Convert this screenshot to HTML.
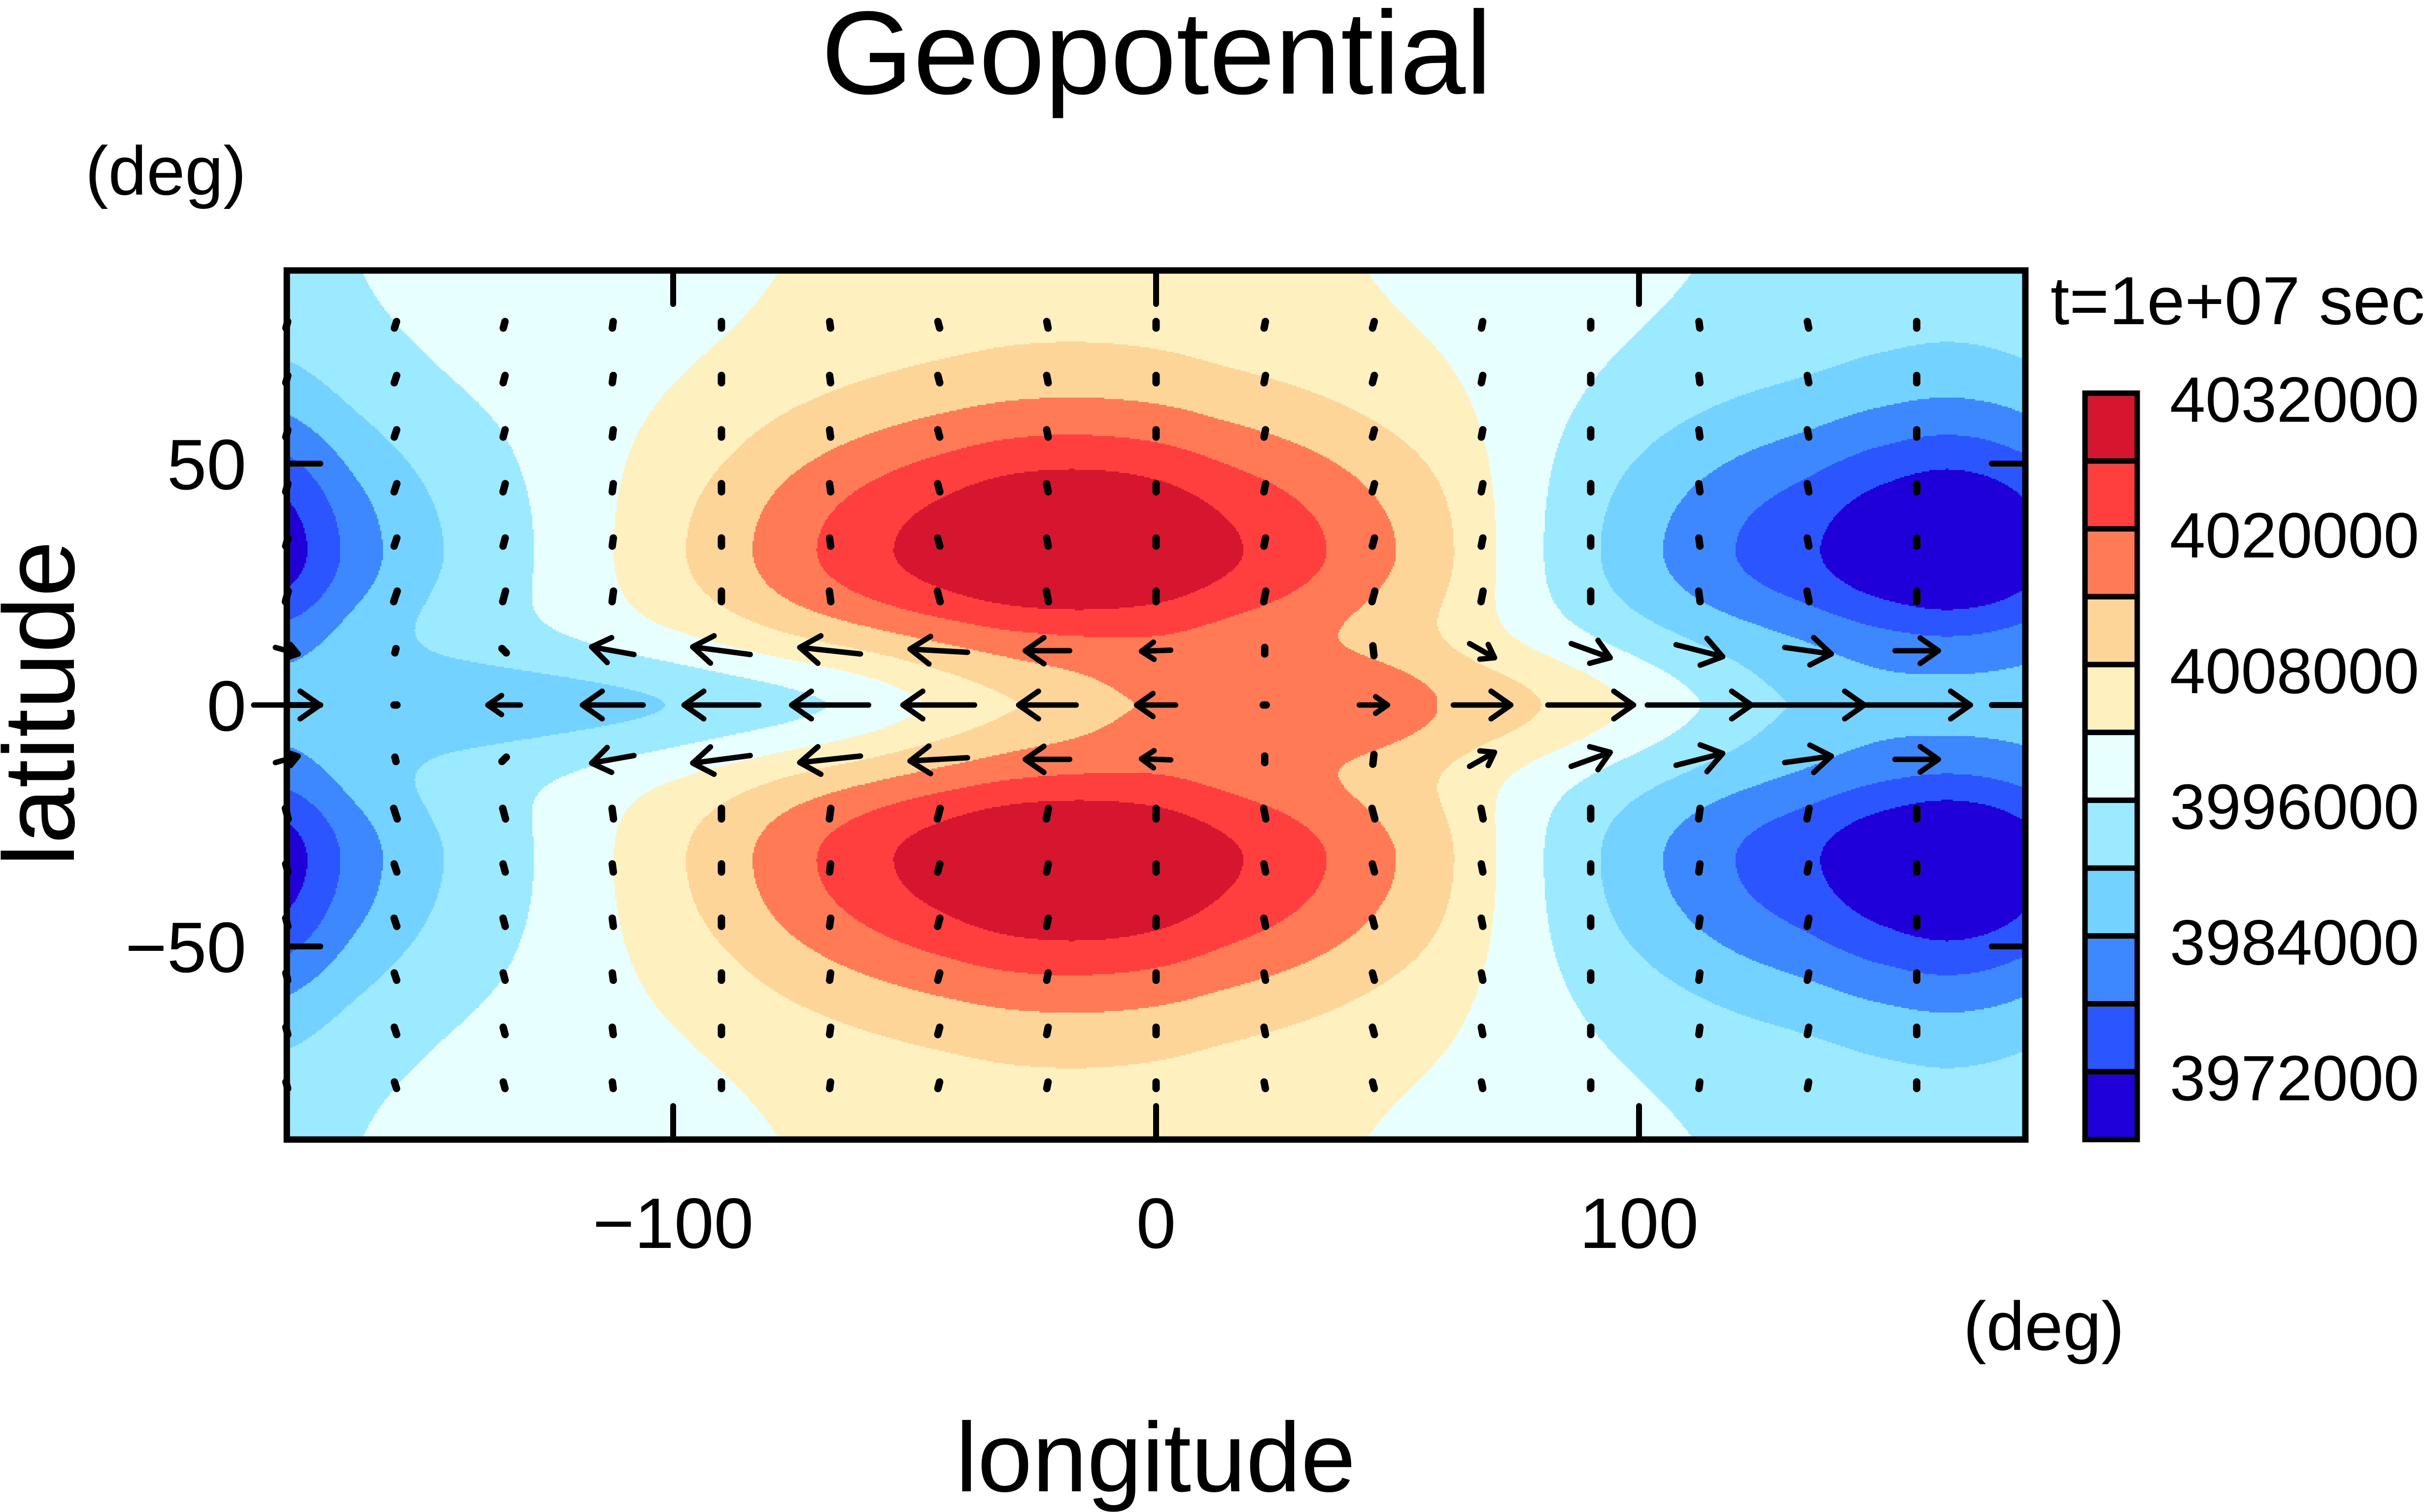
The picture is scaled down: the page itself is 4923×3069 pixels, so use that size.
<!DOCTYPE html>
<html><head><meta charset="utf-8">
<style>
html,body{margin:0;padding:0;background:#fff;}
#wrap{position:relative;width:4923px;height:3069px;overflow:hidden;font-family:"Liberation Sans",Arial,sans-serif;}
#field{position:absolute;left:582px;top:549px;width:3528px;height:1764px;image-rendering:pixelated;}
#over{position:absolute;left:0;top:0;}
</style></head>
<body>
<div id="wrap">
<canvas id="field" width="1176" height="588"></canvas>
<svg id="over" width="4923" height="3069" xmlns="http://www.w3.org/2000/svg">
  <g id="arrows"></g>
  <g id="axes"></g>
  <g id="cbar"></g>
  <text x="2347" y="190" font-size="240" text-anchor="middle">Geopotential</text>
  <text x="173" y="395" font-size="140">(deg)</text>
  <text x="3984" y="2740" font-size="140">(deg)</text>
  <text x="2345" y="3027" font-size="200" text-anchor="middle">longitude</text>
  <text transform="translate(150,1428) rotate(-90)" font-size="205" text-anchor="middle">latitude</text>
  <text x="4161" y="658" font-size="138">t=1e+07 sec</text>
</svg>
</div>
<script>
// ---- data ----
const knotLons = [-180,-165,-150,-135,-120,-105,-90,-75,-60,-45,-30,-15,0,15,30,45,60,75,90,105,120,135,150,165];
const lobeAnom = [-30000,-18000,-10000,-5000,0,6000,12000,19000,25000,30000,34000,35000,33000,28000,23000,17000,10000,0,-8000,-15000,-21000,-26000,-32000,-35000];
const equatorAnom = [-12000,-12500,-12500,-12000,-11000,-9500,-7000,-4500,-1000,4000,8500,12000,16000,18000,19000,18500,14500,10500,5500,0,-5500,-10000,-12000,-12000];
const baseValue = 3999000;
const levels = [3972000,3978000,3984000,3990000,3996000,4002000,4008000,4014000,4020000,4026000];
const levelColors = ["#2000d8","#2b55ff","#3d88ff","#73d2ff","#9ceaff","#e8ffff","#fff1bf","#fdd598","#ff7a55","#ff3e3e","#d6152f"];
const cbarLabels = ["4032000","4020000","4008000","3996000","3984000","3972000"];
const arrowLons = [-180,-157.5,-135,-112.5,-90,-67.5,-45,-22.5,0,22.5,45,67.5,90,112.5,135,157.5];
const uEq = [6.1,0,-3.0,-5.6,-6.9,-7.1,-6.6,-5.3,-3.6,0,2.6,5.3,7.9,9.6,10.4,9.9];
const u11 = [2.1,0.1,-0.4,-3.9,-5.3,-5.6,-5.3,-4.1,-2.7,0,0.1,2.3,3.6,4.3,4.3,4.0];
const v11 = [-0.6,0.4,0.4,0.7,0.7,0.6,0.3,0,-0.1,-0.6,-0.9,-1.3,-1.3,-1.1,-0.6,0];
const uHigh = [0.2,0.25,0.2,0.1,0,-0.1,-0.2,-0.15,0,0.15,0.2,0.15,0,-0.1,-0.15,0];
const vHigh = [0.75,0.75,0.75,0.75,0.75,0.75,0.75,0.75,0.75,0.75,0.75,0.75,0.75,0.75,0.75,0.75];
const highLats = [22.5,33.75,45,56.25,67.5,78.75];
const highFactor = [1.3,1.0,1.0,0.9,0.9,0.8];

// ---- axes geometry ----
const PL=582, PR=4110, PT=549, PB=2313;
const xOf = lon => PL + (lon+180)/360*(PR-PL);
const yOf = lat => PT + (90-lat)/180*(PB-PT);
const UNIT = 22;
const NS = "http://www.w3.org/2000/svg";

function interp(arr, lon){
  const n = knotLons.length;
  let t = (lon+180)/15; t = ((t% n)+n)%n;
  const i = Math.floor(t), f = t-i;
  const p0=arr[(i-1+n)%n], p1=arr[i%n], p2=arr[(i+1)%n], p3=arr[(i+2)%n];
  return 0.5*((2*p1)+(-p0+p2)*f+(2*p0-5*p1+4*p2-p3)*f*f+(-p0+3*p1-3*p2+p3)*f*f*f);
}
function latProfile(lat){
  const a=Math.abs(lat);
  if(a<=32) return Math.pow(Math.sin(Math.PI/2*a/32),1.5);
  return 0.15+0.85*Math.exp(-Math.pow((a-32)/30,2));
}
function value(lon,lat){
  return baseValue + interp(lobeAnom,lon)*latProfile(lat) + interp(equatorAnom,lon)*Math.exp(-Math.pow(lat/12,2));
}
(function(){
  const cv=document.getElementById('field'), ctx=cv.getContext('2d');
  const W=cv.width,H=cv.height, img=ctx.createImageData(W,H);
  const rgb=levelColors.map(c=>[parseInt(c.substr(1,2),16),parseInt(c.substr(3,2),16),parseInt(c.substr(5,2),16)]);
  for(let j=0;j<H;j++){
    const lat=90-(j+0.5)/H*180;
    for(let i=0;i<W;i++){
      const lon=-180+(i+0.5)/W*360;
      const v=value(lon,lat);
      let k=0; while(k<levels.length && v>=levels[k]) k++;
      const o=(j*W+i)*4; img.data[o]=rgb[k][0];img.data[o+1]=rgb[k][1];img.data[o+2]=rgb[k][2];img.data[o+3]=255;
    }
  }
  ctx.putImageData(img,0,0);
})();

// arrows
const ag=document.getElementById('arrows');
function arrow(lon,lat,u,v){
  const cx=xOf(lon), cy=yOf(lat);
  const dx=u*UNIT, dy=-v*UNIT, len=Math.hypot(dx,dy);
  const g=document.createElementNS(NS,'path');
  
  
  let d;
  if(len<8){ d=`M${cx-3} ${cy}L${cx+3} ${cy}`; }
  else if(len<45){
    d=`M${cx-dx/2} ${cy-dy/2}L${cx+dx/2} ${cy+dy/2}`;
  }
  else{
    const ux=dx/len, uy=dy/len;
    const x0=cx-dx/2,y0=cy-dy/2,x1=cx+dx/2,y1=cy+dy/2;
    const h=Math.min(40,0.42*len), w=h*0.7;
    const bx=x1-ux*h, by=y1-uy*h;
    d=`M${x0} ${y0}L${x1} ${y1}M${bx-uy*w} ${by+ux*w}L${x1} ${y1}L${bx+uy*w} ${by-ux*w}`;
  }
  g.setAttribute('d',d);
  g.setAttribute('stroke','#000');g.setAttribute('stroke-width', len<45 ? '15' : '11');
  g.setAttribute('fill','none');g.setAttribute('stroke-linecap','round');g.setAttribute('stroke-linejoin','round');
  ag.appendChild(g);
}
arrowLons.forEach((lon,i)=>{
  arrow(lon,0,uEq[i],0);
  arrow(lon,11.25,u11[i],v11[i]);
  arrow(lon,-11.25,u11[i],-v11[i]);
  highLats.forEach((la,r)=>{
    arrow(lon,la,uHigh[i]*highFactor[r],vHigh[i]*highFactor[r]);
    arrow(lon,-la,uHigh[i]*highFactor[r],-vHigh[i]*highFactor[r]);
  });
});

// axes
const ax=document.getElementById('axes');
function line(x1,y1,x2,y2,w,name){
  const l=document.createElementNS(NS,'line');
  
  
  l.setAttribute('x1',x1);l.setAttribute('y1',y1);l.setAttribute('x2',x2);l.setAttribute('y2',y2);
  l.setAttribute('stroke','#000');l.setAttribute('stroke-width',w);l.setAttribute('stroke-linecap','round');
  ax.appendChild(l);
}
function text(x,y,s,anchor,size,name){
  const t=document.createElementNS(NS,'text');
  
  
  t.setAttribute('x',x);t.setAttribute('y',y);t.setAttribute('text-anchor',anchor);t.setAttribute('font-size',size);
  t.textContent=s; ax.appendChild(t);
}
const xTicks=[-100,0,100], xTickLabels=["\u2212100","0","100"];
const yTicks=[50,0,-50], yTickLabels=["50","0","\u221250"];
xTicks.forEach((t,i)=>{
  line(xOf(t),PT,xOf(t),PT+68,12,'x-tick-top');
  line(xOf(t),PB,xOf(t),PB-68,12,'x-tick-bottom');
  text(xOf(t),2533,xTickLabels[i],'middle',145,'x-tick-label');
});
yTicks.forEach((t,i)=>{
  line(PL,yOf(t),PL+68,yOf(t),12,'y-tick-left');
  line(PR,yOf(t),PR-68,yOf(t),12,'y-tick-right');
  text(500,yOf(t)+52,yTickLabels[i],'end',145,'y-tick-label');
});
const fr=document.createElementNS(NS,'rect');


fr.setAttribute('x',PL);fr.setAttribute('y',PT);fr.setAttribute('width',PR-PL);fr.setAttribute('height',PB-PT);
fr.setAttribute('fill','none');fr.setAttribute('stroke','#000');fr.setAttribute('stroke-width','13');
ax.appendChild(fr);

// colorbar
const cb=document.getElementById('cbar');
const CX=4231,CW=106,CT=798,CB=2313,nb=levelColors.length,bh=(CB-CT)/nb;
for(let k=0;k<nb;k++){
  const r=document.createElementNS(NS,'rect');
  
  
  r.setAttribute('x',CX);r.setAttribute('y',CT+k*bh);r.setAttribute('width',CW);r.setAttribute('height',bh);
  r.setAttribute('fill',levelColors[nb-1-k]);r.setAttribute('stroke','#000');r.setAttribute('stroke-width','11');
  cb.appendChild(r);
}
cbarLabels.forEach((s,i)=>{
  const t=document.createElementNS(NS,'text');
  
  
  t.setAttribute('x',4403);t.setAttribute('y',CT+2*i*bh+58);t.setAttribute('font-size',130);
  t.textContent=s; cb.appendChild(t);
});
</script>
</body></html>
